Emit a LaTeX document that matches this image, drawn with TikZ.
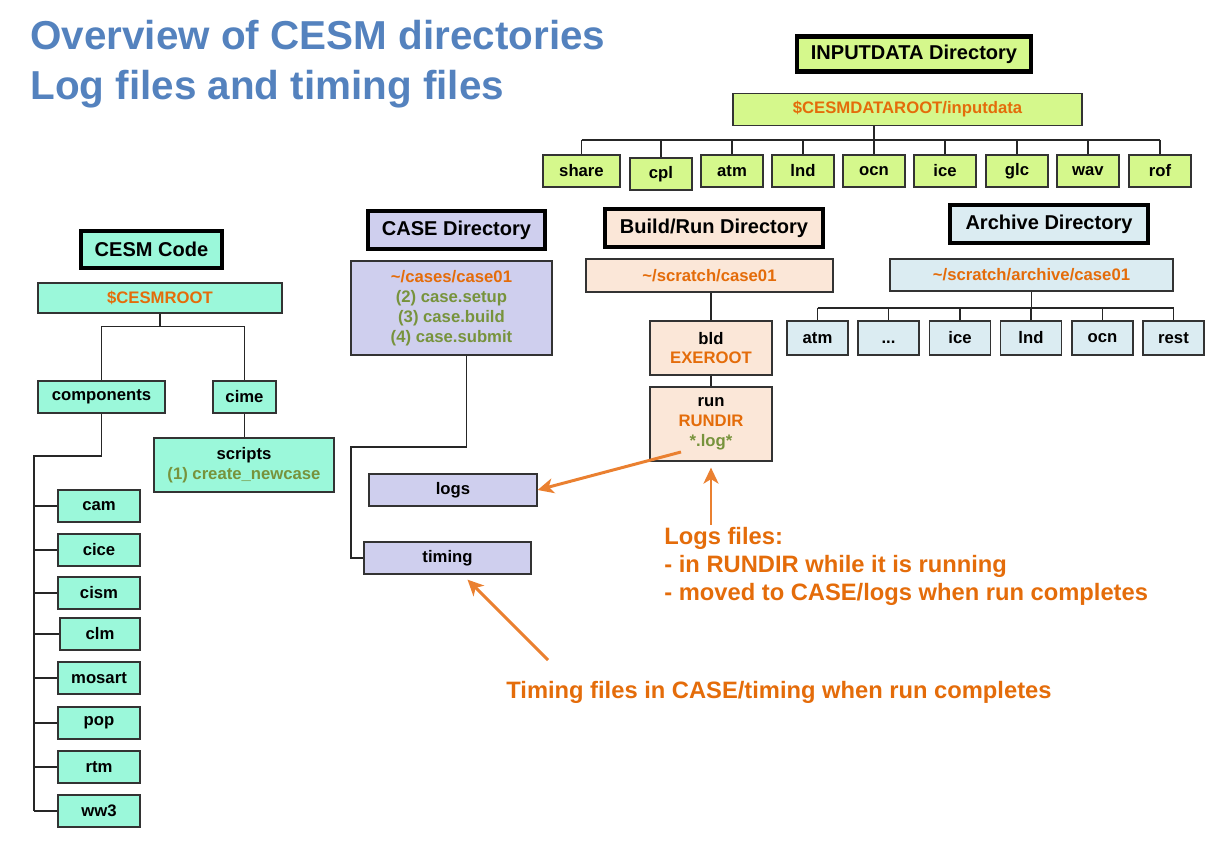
\documentclass[tikz,border=0pt]{standalone}
\usepackage{fontspec}
\setmainfont{Liberation Sans}
\usepackage{xcolor}
\usetikzlibrary{arrows.meta, positioning}

\definecolor{titleblue}{RGB}{84,130,190}
\definecolor{limefill}{RGB}{213,248,140}
\definecolor{aquafill}{RGB}{155,248,218}
\definecolor{lavfill}{RGB}{207,207,238}
\definecolor{peachfill}{RGB}{251,231,216}
\definecolor{skyfill}{RGB}{219,236,242}
\definecolor{orangetxt}{RGB}{228,108,10}
\definecolor{orangeline}{RGB}{234,128,48}
\definecolor{greentxt}{RGB}{119,147,60}

\begin{document}
\begin{tikzpicture}[
    x=0.02cm, y=-0.02cm,
    font=\bfseries\fontsize{9.5}{11.3}\selectfont,
    box/.style={rectangle, draw=black!80, line width=0.7pt, inner sep=0pt, align=center, minimum height=0.64cm},
    head/.style={rectangle, draw=black, line width=2.3pt, inner sep=0pt, minimum height=0.7cm, font=\bfseries\fontsize{11.4}{13}\selectfont},
    link/.style={draw=black!85, line width=0.8pt},
    oarrow/.style={-{Stealth[length=3.2mm, width=3mm, inset=0.9mm]}, draw=orangeline, line width=1.7pt},
    note/.style={text=orangetxt, align=left, font=\bfseries\fontsize{13.5}{15.9}\selectfont},
    path/.style={text=orangetxt},
    cmd/.style={text=greentxt}
]
\useasboundingbox (0,0) rectangle (1215,841);

% Titel
\node[anchor=north west, inner sep=0pt, align=left, text=titleblue, font=\bfseries\fontsize{23}{28.4}\selectfont] (title) at (30,20)
    {Overview of CESM directories\\Log files and timing files};

% INPUTDATA
\node[head, fill=limefill, minimum width=4.68cm] (inhead) at (914,54) {INPUTDATA Directory};
\node[box, fill=limefill, minimum width=6.98cm] (inroot) at (907.5,109.5) {\textcolor{orangetxt}{\$CESMDATAROOT/inputdata}};
\node[box, fill=limefill, minimum width=1.54cm] (share) at (581.5,171) {share};
\node[box, fill=limefill, minimum width=1.24cm] (cpl) at (661,174) {cpl};
\node[box, fill=limefill, minimum width=1.24cm] (atm) at (732,171) {atm};
\node[box, fill=limefill, minimum width=1.24cm] (lnd) at (803,171) {lnd};
\node[box, fill=limefill, minimum width=1.24cm] (ocn) at (874,171) {ocn};
\node[box, fill=limefill, minimum width=1.24cm] (ice) at (945,171) {ice};
\node[box, fill=limefill, minimum width=1.24cm] (glc) at (1017,171) {glc};
\node[box, fill=limefill, minimum width=1.24cm] (wav) at (1088,171) {wav};
\node[box, fill=limefill, minimum width=1.24cm] (rof) at (1160,171) {rof};

\coordinate (ibus) at (0,140);
\draw[link] (inroot.south -| ocn.north) -- (ocn.north |- ibus);
\draw[link] (share.north |- ibus) -- (rof.north |- ibus);
\foreach \d in {share,cpl,atm,lnd,ocn,ice,glc,wav,rof} {
    \draw[link] (\d.north |- ibus) -- (\d.north);
}

% CESM Code
\node[head, fill=aquafill, minimum width=2.82cm, minimum height=0.74cm] (codehead) at (151.5,249.5) {CESM Code};
\node[box, fill=aquafill, minimum width=4.88cm, minimum height=0.6cm] (root) at (160,298) {\textcolor{orangetxt}{\$CESMROOT}};
\node[box, fill=aquafill, minimum width=2.54cm] (comp) at (101.5,397) {components};
\node[box, fill=aquafill, minimum width=1.26cm] (cime) at (244.5,397) {cime};
\node[box, fill=aquafill, minimum width=3.6cm, minimum height=1.08cm] (scripts) at (244,465) {scripts\\\textcolor{greentxt}{(1) create\_newcase}};

\draw[link] (root.south) -- ++(0,13) coordinate (rj);
\draw[link] (rj) -| (comp.north);
\draw[link] (rj) -| (cime.north);
\draw[link] (cime.south) -- (cime.south |- scripts.north);

% Komponenten
\node[box, fill=aquafill, minimum width=1.64cm] (cam) at (99,506) {cam};
\node[box, fill=aquafill, minimum width=1.64cm] (cice) at (99,550) {cice};
\node[box, fill=aquafill, minimum width=1.64cm] (cism) at (99,593) {cism};
\node[box, fill=aquafill, minimum width=1.6cm] (clm) at (100,634) {clm};
\node[box, fill=aquafill, minimum width=1.64cm] (mosart) at (99,678) {mosart};
\node[box, fill=aquafill, minimum width=1.64cm] (pop) at (99,723) {pop};
\node[box, fill=aquafill, minimum width=1.64cm] (rtm) at (99,767) {rtm};
\node[box, fill=aquafill, minimum width=1.64cm] (ww3) at (99,811) {ww3};

\coordinate (spine) at (34,456);
\draw[link] (comp.south) |- (spine) -- (spine |- ww3.west);
\foreach \c in {cam,cice,cism,clm,mosart,pop,rtm,ww3} {
    \draw[link] (spine |- \c.west) -- (\c.west);
}

% CASE
\node[head, fill=lavfill, minimum width=3.54cm, minimum height=0.76cm] (casehead) at (456.5,230) {CASE Directory};
\node[box, fill=lavfill, minimum width=4.02cm, minimum height=1.88cm] (case) at (451.5,308)
    {\textcolor{orangetxt}{\textasciitilde/cases/case01}\\\textcolor{greentxt}{(2) case.setup}\\\textcolor{greentxt}{(3) case.build}\\\textcolor{greentxt}{(4) case.submit}};
\node[box, fill=lavfill, minimum width=3.36cm] (logs) at (453,490) {logs};
\node[box, fill=lavfill, minimum width=3.34cm] (timing) at (447.5,558) {timing};

\coordinate (cj) at (351,447);
\draw[link] ([xshift=0.3cm]case.south) |- (cj) |- (timing.west);

% Build/Run
\node[head, fill=peachfill, minimum width=4.36cm, minimum height=0.76cm] (buildhead) at (714,228) {Build/Run Directory};
\node[box, fill=peachfill, minimum width=4.94cm, minimum height=0.66cm] (build) at (709.5,275.5) {\textcolor{orangetxt}{\textasciitilde/scratch/case01}};
\node[box, fill=peachfill, minimum width=2.44cm, minimum height=1.08cm] (bld) at (711,348) {bld\\\textcolor{orangetxt}{EXEROOT}};
\node[box, fill=peachfill, minimum width=2.44cm, minimum height=1.48cm] (run) at (711,424) {run\\\textcolor{orangetxt}{RUNDIR}\\\textcolor{greentxt}{*.log*}};

\draw[link] (bld.north |- build.south) -- (bld.north);
\draw[link] (bld.south) -- (run.north);

% Archive
\node[head, fill=skyfill, minimum width=3.96cm, minimum height=0.76cm] (archhead) at (1049,224) {Archive Directory};
\node[box, fill=skyfill, minimum width=5.66cm] (arch) at (1031.5,275) {\textcolor{orangetxt}{\textasciitilde/scratch/archive/case01}};
\node[box, fill=skyfill, minimum width=1.22cm, minimum height=0.68cm] (aatm) at (817.5,338) {atm};
\node[box, fill=skyfill, minimum width=1.22cm, minimum height=0.68cm] (adots) at (888.5,338) {\vphantom{atm}...};
\node[box, fill=skyfill, minimum width=1.22cm, minimum height=0.68cm] (aice) at (960,338) {ice};
\node[box, fill=skyfill, minimum width=1.22cm, minimum height=0.68cm] (alnd) at (1031,338) {lnd};
\node[box, fill=skyfill, minimum width=1.22cm, minimum height=0.68cm] (aocn) at (1102.5,338) {ocn};
\node[box, fill=skyfill, minimum width=1.22cm, minimum height=0.68cm] (arest) at (1173.5,338) {rest};

\coordinate (abus) at (0,308);
\draw[link] (arch.south) -- (arch.south |- abus);
\draw[link] (aatm.north |- abus) -- (arest.north |- abus);
\foreach \a in {aatm,adots,aice,alnd,aocn,arest} {
    \draw[link] (\a.north |- abus) -- (\a.north);
}

% Hinweise
\node[note, anchor=north west, inner sep=0pt] (lognote) at (664,527)
    {Logs files:\\- in RUNDIR while it is running\\- moved to CASE/logs when run completes};
\node[note, anchor=west, inner sep=0pt] (timnote) at (506,692) {Timing files in CASE/timing when run completes};

\coordinate (logsrc) at (681,452);
\coordinate (upsrc) at (711,525);
\coordinate (timsrc) at (548,660);
\draw[oarrow] (logsrc) -- (logs.east);
\draw[oarrow] (upsrc) -- ([yshift=-0.12cm]run.south);
\draw[oarrow] (timsrc) -- ([xshift=0.4cm, yshift=-0.1cm]timing.south);

\end{tikzpicture}
\end{document}
